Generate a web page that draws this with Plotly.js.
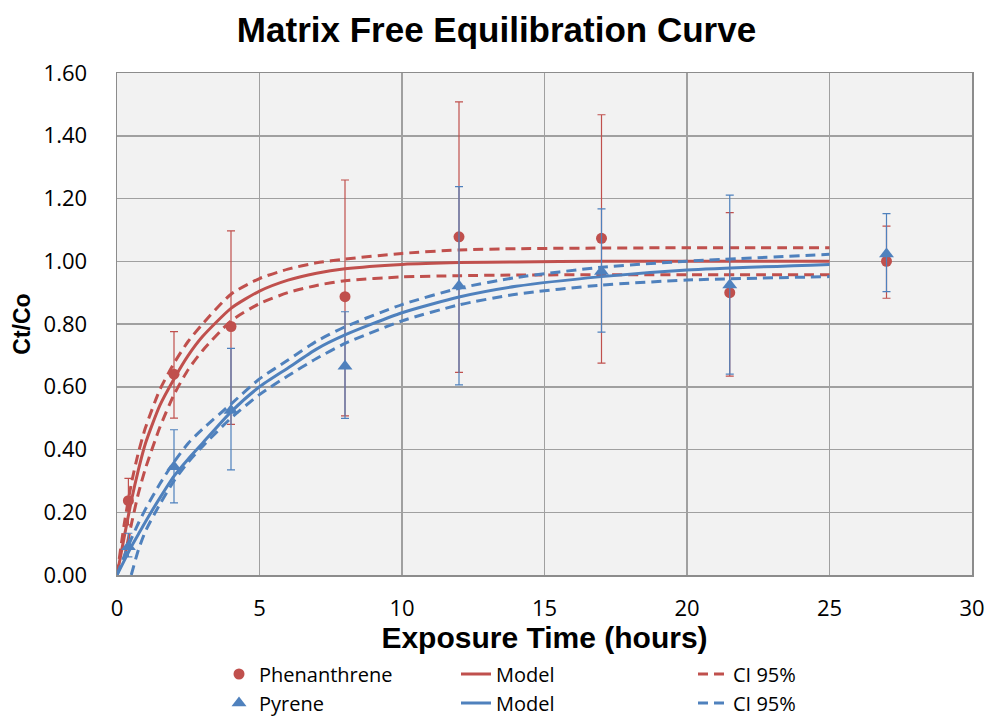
<!DOCTYPE html>
<html>
<head>
<meta charset="utf-8">
<script src="https://cdn.plot.ly/plotly-3.0.1.min.js"></script>
<style>html,body{margin:0;padding:0;background:#fff;}#chart{width:993px;height:719px;}</style>
</head>
<body>
<div id="chart"></div>
<script>
// Measured data (hours, Ct/Co)
const sampleTimes = [0.4, 2, 4, 8, 12, 17, 21.5, 27];

const phenY     = [0.237, 0.640, 0.792, 0.887, 1.078, 1.073, 0.900, 1.000];
const phenUpper = [0.308, 0.776, 1.097, 1.259, 1.508, 1.467, 1.155, 1.112];
const phenLower = [0.160, 0.500, 0.480, 0.507, 0.646, 0.675, 0.634, 0.882];

const pyrY      = [0.090, 0.345, 0.524, 0.665, 0.921, 0.967, 0.924, 1.023];
const pyrUpper  = [0.133, 0.463, 0.722, 0.839, 1.238, 1.167, 1.211, 1.152];
const pyrLower  = [0.058, 0.230, 0.335, 0.499, 0.606, 0.774, 0.640, 0.903];

// Model curves and 95% CI
const curveTimes   = [0, 0.25, 0.5, 0.75, 1, 1.5, 2, 2.5, 3, 4, 5, 6, 7, 8, 10, 12, 14, 17, 20, 25];

const phenModel    = [0, 0.120, 0.235, 0.335, 0.420, 0.540, 0.625, 0.700, 0.760, 0.850, 0.905, 0.940, 0.962, 0.976, 0.990, 0.996, 0.998, 1.000, 1.000, 1.000];
const phenCIUpper  = [0, 0.160, 0.290, 0.390, 0.470, 0.590, 0.675, 0.745, 0.800, 0.895, 0.945, 0.975, 0.995, 1.007, 1.025, 1.036, 1.040, 1.042, 1.043, 1.043];
const phenCILower  = [null, 0.050, 0.160, 0.260, 0.340, 0.470, 0.575, 0.655, 0.715, 0.810, 0.865, 0.900, 0.923, 0.938, 0.950, 0.954, 0.956, 0.957, 0.957, 0.957];

const pyrModel     = [0, 0.045, 0.090, 0.130, 0.170, 0.245, 0.315, 0.370, 0.420, 0.520, 0.600, 0.660, 0.720, 0.765, 0.836, 0.886, 0.920, 0.951, 0.972, 0.990];
const pyrCIUpper   = [0, 0.060, 0.115, 0.165, 0.210, 0.290, 0.360, 0.420, 0.465, 0.545, 0.625, 0.685, 0.745, 0.791, 0.862, 0.914, 0.948, 0.981, 1.000, 1.022];
const pyrCILower   = [null, null, 0, 0.080, 0.140, 0.225, 0.300, 0.360, 0.410, 0.500, 0.575, 0.635, 0.690, 0.738, 0.810, 0.861, 0.895, 0.924, 0.940, 0.951];

const xTickVals = [0, 5, 10, 15, 20, 25, 30];
const yTickVals = [0, 0.2, 0.4, 0.6, 0.8, 1.0, 1.2, 1.4, 1.6];

const RED = '#C0504D';
const BLUE = '#4F81BD';
const diff = (a, b) => a.map((v, i) => v - b[i]);
const dashPat = '10px,6px';

const traces = [
  {x: sampleTimes, y: phenY, type: 'scatter', mode: 'markers', name: 'Phenanthrene', legend: 'legend',
   marker: {symbol: 'circle', size: 11, color: RED},
   error_y: {type: 'data', symmetric: false, array: diff(phenUpper, phenY), arrayminus: diff(phenY, phenLower),
             color: RED, thickness: 1.2, width: 4}},
  {x: curveTimes, y: phenModel, type: 'scatter', mode: 'lines', name: 'Model', legend: 'legend',
   line: {color: RED, width: 3, shape: 'spline', smoothing: 0.6}},
  {x: curveTimes, y: phenCIUpper, type: 'scatter', mode: 'lines', name: 'CI 95%', legend: 'legend', legendgroup: 'rci',
   line: {color: RED, width: 3, dash: dashPat, shape: 'spline', smoothing: 0.6}},
  {x: curveTimes, y: phenCILower, type: 'scatter', mode: 'lines', name: 'CI 95%', legend: 'legend', legendgroup: 'rci', showlegend: false,
   line: {color: RED, width: 3, dash: dashPat, shape: 'spline', smoothing: 0.6}},
  {x: sampleTimes, y: pyrY, type: 'scatter', mode: 'markers', name: 'Pyrene', legend: 'legend2',
   marker: {symbol: 'triangle-up', size: 13, color: BLUE},
   error_y: {type: 'data', symmetric: false, array: diff(pyrUpper, pyrY), arrayminus: diff(pyrY, pyrLower),
             color: BLUE, thickness: 1.2, width: 4}},
  {x: curveTimes, y: pyrModel, type: 'scatter', mode: 'lines', name: 'Model', legend: 'legend2',
   line: {color: BLUE, width: 3, shape: 'spline', smoothing: 0.6}},
  {x: curveTimes, y: pyrCIUpper, type: 'scatter', mode: 'lines', name: 'CI 95%', legend: 'legend2', legendgroup: 'bci',
   line: {color: BLUE, width: 3, dash: dashPat, shape: 'spline', smoothing: 0.6}},
  {x: curveTimes, y: pyrCILower, type: 'scatter', mode: 'lines', name: 'CI 95%', legend: 'legend2', legendgroup: 'bci', showlegend: false,
   line: {color: BLUE, width: 3, dash: dashPat, shape: 'spline', smoothing: 0.6}}
];

const legendCommon = {
  orientation: 'h', entrywidthmode: 'pixels', entrywidth: 192,
  x: 0.1193, xanchor: 'left', yref: 'container', yanchor: 'middle',
  font: {family: 'Open Sans, Noto Sans, sans-serif', size: 20, color: '#000'},
  bgcolor: 'rgba(0,0,0,0)', borderwidth: 0, traceorder: 'normal'
};

const layout = {
  width: 993, height: 719,
  margin: {l: 117, r: 21, t: 73, b: 144, autoexpand: false},
  paper_bgcolor: '#ffffff', plot_bgcolor: '#f2f2f2',
  title: {text: '<b>Matrix Free Equilibration Curve</b>', x: 0.5, xanchor: 'center', y: 0.958, yanchor: 'middle',
          font: {family: 'Liberation Sans, Arial, sans-serif', size: 35, color: '#000'}},
  xaxis: {range: [0, 30], tickvals: xTickVals, ticktext: xTickVals.map(String),
          showgrid: true, gridcolor: '#a0a0a0', gridwidth: 1.5, zeroline: false,
          showline: true, linecolor: '#8c8c8c', linewidth: 1.5, mirror: true, ticks: '',
          ticklabelstandoff: 13, automargin: true,
          tickfont: {family: 'Open Sans, Noto Sans, sans-serif', size: 22, color: '#000'},
          title: {text: '<b>Exposure Time (hours)</b>', standoff: 14,
                  font: {family: 'Liberation Sans, Arial, sans-serif', size: 30, color: '#000'}}},
  yaxis: {range: [0, 1.6], tickvals: yTickVals, ticktext: yTickVals.map(v => v.toFixed(2)),
          showgrid: true, gridcolor: '#a0a0a0', gridwidth: 1.5, zeroline: false,
          showline: true, linecolor: '#8c8c8c', linewidth: 1.5, mirror: true, ticks: '',
          ticklabelstandoff: 24, automargin: false,
          tickfont: {family: 'Open Sans, Noto Sans, sans-serif', size: 22, color: '#000'},
          title: {text: '<b>Ct/Co</b>', standoff: 6,
                  font: {family: 'Liberation Sans, Arial, sans-serif', size: 23, color: '#000'}}},
  legend: Object.assign({}, legendCommon, {y: 0.0626}),
  legend2: Object.assign({}, legendCommon, {y: 0.0223}),
  showlegend: true
};

Plotly.newPlot('chart', traces, layout, {displayModeBar: false, staticPlot: true});
</script>
</body>
</html>
